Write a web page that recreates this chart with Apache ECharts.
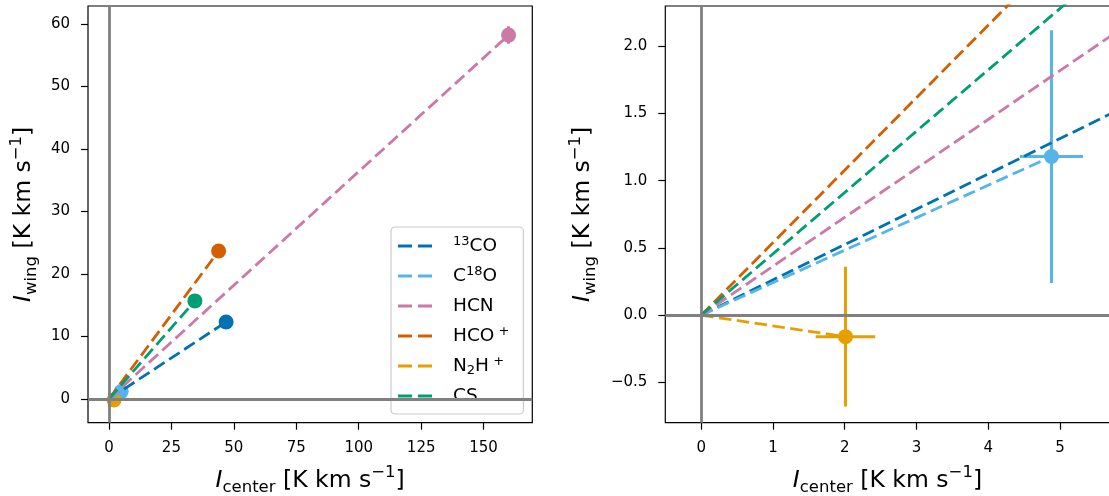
<!DOCTYPE html>
<html>
<head>
<meta charset="utf-8">
<script src="https://cdn.jsdelivr.net/npm/echarts@6/dist/echarts.min.js"></script>
<style>
html,body{margin:0;padding:0;background:#fff;}
#chart{width:1109px;height:496px;}
</style>
</head>
<body>
<div id="chart"></div>
<script>
// ---- data ----
const molecules = ['13CO', 'C18O', 'HCN', 'HCO+', 'N2H+', 'CS'];
const molColors = ['#0072B2', '#56B4E9', '#CC79A7', '#D55E00', '#E69F00', '#009E73'];
const iCenter = [46.9, 4.88, 160.0, 43.9, 2.01, 34.4];
const iWing = [12.32, 1.18, 58.24, 23.68, -0.16, 15.7];
const errCenter = [0, 0.44, 0, 0, 0.415, 0];
const errWing = [0, 0.94, 1.4, 0, 0.52, 0];

const leftXTicks = [0, 25, 50, 75, 100, 125, 150];
const leftYTicks = [0, 10, 20, 30, 40, 50, 60];
const rightXTicks = [0, 1, 2, 3, 4, 5];
const rightYTicks = [-0.5, 0.0, 0.5, 1.0, 1.5, 2.0];

const leftXRange = [-8.4, 169.5];
const leftYRange = [-3.8, 62.9];
const rightXRange = [-0.5, 5.69];
const rightYRange = [-0.80, 2.30];

const legendRich = {
  '13CO': '{sup|13}{n|CO}',
  'C18O': '{n|C}{sup|18}{n|O}',
  'HCN': '{n|HCN}',
  'HCO+': '{n|HCO}{sup| +}',
  'N2H+': '{n|N}{sub|2}{n|H}{sup| +}',
  'CS': '{n|CS}'
};

// ---- styling ----
const FONT = 'DejaVu Sans';
const nameRich = {
  i: {fontFamily: FONT, fontStyle: 'italic', fontSize: 23.5, lineHeight: 32, color: '#000'},
  n: {fontFamily: FONT, fontSize: 23.5, lineHeight: 32, color: '#000'},
  sub: {fontFamily: FONT, fontSize: 16.5, lineHeight: 17, verticalAlign: 'bottom', color: '#000'},
  sup: {fontFamily: FONT, fontSize: 16.5, lineHeight: 17, verticalAlign: 'top', color: '#000'}
};
const xName = '{i|I}{sub|center}{n| [K km s}{sup|−1}{n|]}';
const yName = '{i|I}{sub|wing}{n| [K km s}{sup|−1}{n|]}';
const tickRich = {t: {fontFamily: FONT, fontSize: 15, lineHeight: 16, color: '#000'}};

function fmtMinus(v, digits) {
  const s = digits == null ? String(v) : Number(v).toFixed(digits);
  return '{t|' + s.replace('-', '−') + '}';
}

function makeXAxis(gridIndex, range, ticks, digits) {
  return {
    type: 'value', gridIndex: gridIndex, min: range[0], max: range[1],
    axisLine: {show: false, onZero: false},
    splitLine: {show: false},
    axisTick: {show: true, inside: false, length: 7, lineStyle: {color: '#000', width: 1.2}, customValues: ticks},
    axisLabel: {show: true, margin: 17, fontFamily: FONT, fontSize: 15, color: '#000', rich: tickRich,
      customValues: ticks, formatter: v => fmtMinus(v, digits)},
    name: xName, nameLocation: 'middle', nameGap: 42,
    nameTextStyle: {rich: nameRich}
  };
}
function makeYAxis(gridIndex, range, ticks, digits, gap) {
  return {
    type: 'value', gridIndex: gridIndex, min: range[0], max: range[1],
    axisLine: {show: false, onZero: false},
    splitLine: {show: false},
    axisTick: {show: true, inside: false, length: 7, lineStyle: {color: '#000', width: 1.2}, customValues: ticks},
    axisLabel: {show: true, margin: 18, fontFamily: FONT, fontSize: 15, color: '#000', rich: tickRich,
      customValues: ticks, formatter: v => fmtMinus(v, digits)},
    name: yName, nameLocation: 'middle', nameGap: gap, nameRotate: 90,
    nameTextStyle: {rich: nameRich}
  };
}

function errRender(color) {
  return function (params, api) {
    const x = api.value(0), y = api.value(1), ex = api.value(2), ey = api.value(3);
    const cs = params.coordSys;
    const c = api.coord([x, y]);
    if (c[0] < cs.x || c[0] > cs.x + cs.width || c[1] < cs.y || c[1] > cs.y + cs.height) return null;
    const style = {stroke: color, lineWidth: 3, fill: null};
    const children = [];
    if (ex > 0) {
      const a = api.coord([x - ex, y]), b = api.coord([x + ex, y]);
      children.push({type: 'line', shape: {x1: a[0], y1: a[1], x2: b[0], y2: b[1]}, style: style});
    }
    if (ey > 0) {
      const a = api.coord([x, y - ey]), b = api.coord([x, y + ey]);
      children.push({type: 'line', shape: {x1: a[0], y1: a[1], x2: b[0], y2: b[1]}, style: style});
    }
    return {type: 'group', children: children};
  };
}

const series = [];
[0, 1].forEach(function (g) {
  // gray zero lines
  series.push({
    type: 'line', name: 'zero' + g, xAxisIndex: g, yAxisIndex: g, data: [],
    silent: true,
    markLine: {
      silent: true, symbol: 'none', label: {show: false},
      lineStyle: {color: '#808080', width: 2.8, type: 'solid'},
      emphasis: {disabled: true},
      data: [{xAxis: 0}, {yAxis: 0}]
    }
  });
  molecules.forEach(function (m, i) {
    series.push({
      type: 'line', name: m, xAxisIndex: g, yAxisIndex: g,
      data: [[0, 0], [iCenter[i], iWing[i]]],
      symbol: 'none', showSymbol: false, clip: true,
      color: molColors[i],
      lineStyle: {color: molColors[i], width: 2.8, type: [12.5, 5.5], cap: 'butt'}
    });
    series.push({
      type: 'custom', name: m + ' err' + g, xAxisIndex: g, yAxisIndex: g,
      data: [[iCenter[i], iWing[i], errCenter[i], errWing[i]]],
      encode: {x: 0, y: 1},
      renderItem: errRender(molColors[i]),
      clip: true, silent: true
    });
    series.push({
      type: 'scatter', name: m + ' pt' + g, xAxisIndex: g, yAxisIndex: g,
      data: [[iCenter[i], iWing[i]]],
      symbol: 'circle', symbolSize: 15, clip: true,
      itemStyle: {color: molColors[i], opacity: 1}
    });
  });
});

const DASH_ICON = 'path://M0,0H14V3H0Z M20,0H34V3H20Z';

const option = {
  animation: false,
  backgroundColor: '#fff',
  textStyle: {fontFamily: FONT},
  grid: [
    {left: 88, top: 6, width: 444.3, height: 416.7, show: true, borderColor: '#000', borderWidth: 1.2,
      backgroundColor: 'transparent', containLabel: false, outerBoundsMode: 'none'},
    {left: 665.3, top: 6, width: 444.3, height: 416.7, show: true, borderColor: '#000', borderWidth: 1.2,
      backgroundColor: 'transparent', containLabel: false, outerBoundsMode: 'none'}
  ],
  xAxis: [
    makeXAxis(0, leftXRange, leftXTicks, null),
    makeXAxis(1, rightXRange, rightXTicks, null)
  ],
  yAxis: [
    makeYAxis(0, leftYRange, leftYTicks, null, 48),
    makeYAxis(1, rightYRange, rightYTicks, 1, 66)
  ],
  legend: {
    show: true,
    data: molecules.map(m => ({name: m, icon: DASH_ICON})),
    orient: 'vertical',
    left: 391, top: 227,
    padding: [8, 14, 7, 7],
    itemWidth: 34, itemHeight: 3, itemGap: 8,
    backgroundColor: 'rgba(255,255,255,0.85)',
    borderColor: '#cccccc', borderWidth: 1.2, borderRadius: 4,
    selectedMode: false,
    formatter: name => legendRich[name],
    textStyle: {
      fontFamily: FONT, fontSize: 18.5, lineHeight: 22, color: '#000',
      padding: [0, 0, 0, 16],
      rich: {
        n: {fontFamily: FONT, fontSize: 18.5, lineHeight: 22, color: '#000'},
        sup: {fontFamily: FONT, fontSize: 13, lineHeight: 13, verticalAlign: 'top', color: '#000'},
        sub: {fontFamily: FONT, fontSize: 13, lineHeight: 13, verticalAlign: 'bottom', color: '#000'}
      }
    }
  },
  series: series
};

const chart = echarts.init(document.getElementById('chart'), null, {renderer: 'canvas'});
chart.setOption(option);
</script>
</body>
</html>
